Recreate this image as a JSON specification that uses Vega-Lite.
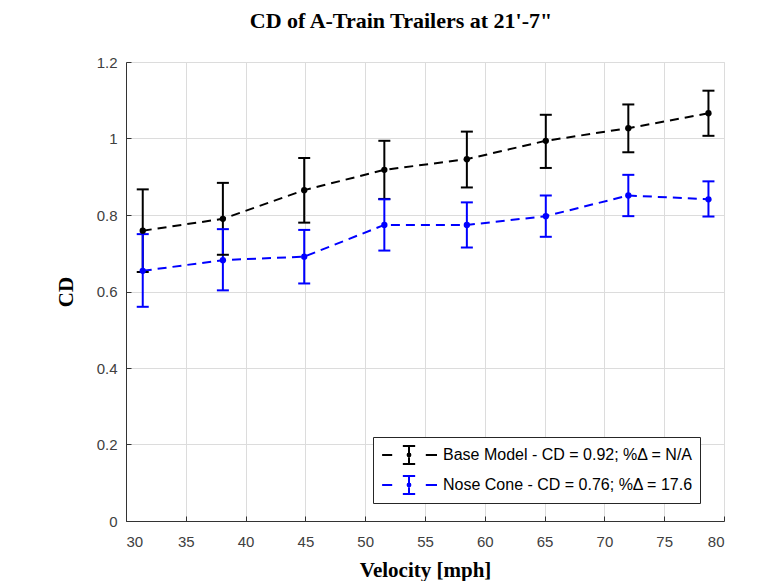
{
  "$schema": "https://vega.github.io/schema/vega-lite/v6.json",
  "width": 598,
  "height": 459,
  "autosize": {"type": "none"},
  "padding": {"left": 126, "top": 62, "right": 57, "bottom": 60},
  "background": "white",
  "title": {
    "text": "CD of A-Train Trailers at 21'-7\"",
    "font": "Liberation Serif",
    "fontWeight": "bold",
    "fontSize": 22,
    "color": "black",
    "anchor": "middle",
    "baseline": "alphabetic",
    "offset": 5,
    "dx": -24
  },
  "data": {
    "values": [
      {"series": "Base Model - CD = 0.92; %Δ = N/A", "v": 31.4, "cd": 0.759, "lo": 0.651, "hi": 0.867},
      {"series": "Base Model - CD = 0.92; %Δ = N/A", "v": 38.1, "cd": 0.790, "lo": 0.696, "hi": 0.884},
      {"series": "Base Model - CD = 0.92; %Δ = N/A", "v": 44.9, "cd": 0.865, "lo": 0.780, "hi": 0.949},
      {"series": "Base Model - CD = 0.92; %Δ = N/A", "v": 51.6, "cd": 0.918, "lo": 0.842, "hi": 0.994},
      {"series": "Base Model - CD = 0.92; %Δ = N/A", "v": 58.5, "cd": 0.946, "lo": 0.872, "hi": 1.018},
      {"series": "Base Model - CD = 0.92; %Δ = N/A", "v": 65.1, "cd": 0.994, "lo": 0.923, "hi": 1.062},
      {"series": "Base Model - CD = 0.92; %Δ = N/A", "v": 72.0, "cd": 1.027, "lo": 0.964, "hi": 1.089},
      {"series": "Base Model - CD = 0.92; %Δ = N/A", "v": 78.7, "cd": 1.066, "lo": 1.007, "hi": 1.125},
      {"series": "Nose Cone - CD = 0.76; %Δ = 17.6", "v": 31.4, "cd": 0.654, "lo": 0.560, "hi": 0.750},
      {"series": "Nose Cone - CD = 0.76; %Δ = 17.6", "v": 38.1, "cd": 0.682, "lo": 0.603, "hi": 0.763},
      {"series": "Nose Cone - CD = 0.76; %Δ = 17.6", "v": 44.9, "cd": 0.691, "lo": 0.621, "hi": 0.761},
      {"series": "Nose Cone - CD = 0.76; %Δ = 17.6", "v": 51.6, "cd": 0.774, "lo": 0.707, "hi": 0.841},
      {"series": "Nose Cone - CD = 0.76; %Δ = 17.6", "v": 58.5, "cd": 0.774, "lo": 0.715, "hi": 0.833},
      {"series": "Nose Cone - CD = 0.76; %Δ = 17.6", "v": 65.1, "cd": 0.797, "lo": 0.743, "hi": 0.851},
      {"series": "Nose Cone - CD = 0.76; %Δ = 17.6", "v": 72.0, "cd": 0.851, "lo": 0.797, "hi": 0.905},
      {"series": "Nose Cone - CD = 0.76; %Δ = 17.6", "v": 78.7, "cd": 0.841, "lo": 0.796, "hi": 0.888}
    ]
  },
  "encoding": {
    "x": {
      "field": "v",
      "type": "quantitative",
      "scale": {"domain": [30, 80], "nice": false, "zero": false},
      "axis": {
        "title": "Velocity [mph]",
        "values": [30, 35, 40, 45, 50, 55, 60, 65, 70, 75, 80],
        "format": "~g"
      }
    },
    "color": {
      "field": "series",
      "type": "nominal",
      "scale": {
        "domain": ["Base Model - CD = 0.92; %Δ = N/A", "Nose Cone - CD = 0.76; %Δ = 17.6"],
        "range": ["#000000", "#0000ff"]
      },
      "legend": {
        "title": null,
        "orient": "none",
        "legendX": 247,
        "legendY": 375,
        "symbolType": "M-0.96,0H-0.6M0.6,0H1M0,-0.32V0.32M-0.22,-0.32H0.22M-0.22,0.32H0.22M-0.05,0A0.05,0.05 0 1,0 0.05,0A0.05,0.05 0 1,0 -0.05,0Z",
        "symbolSize": 3136,
        "symbolStrokeWidth": 2,
        "clipHeight": 22,
        "rowPadding": 8,
        "labelOffset": 5,
        "labelFont": "Liberation Sans",
        "labelFontSize": 16,
        "labelColor": "black",
        "labelLimit": 400,
        "padding": 7,
        "strokeColor": "#262626",
        "fillColor": "white",
        "encode": {
          "symbols": {
            "update": {
              "fill": {"scale": "color", "field": "value"},
              "stroke": {"scale": "color", "field": "value"},
              "strokeWidth": {"value": 2},
              "opacity": {"value": 1}
            }
          }
        }
      }
    }
  },
  "layer": [
    {
      "mark": {"type": "line", "strokeWidth": 2, "strokeDash": [9, 6]},
      "encoding": {
        "y": {
          "field": "cd",
          "type": "quantitative",
          "scale": {"domain": [0, 1.2], "nice": false},
          "axis": {
            "title": "CD",
            "values": [0, 0.2, 0.4, 0.6, 0.8, 1, 1.2],
            "format": "~g"
          }
        }
      }
    },
    {
      "mark": {"type": "rule", "strokeWidth": 2},
      "encoding": {
        "y": {"field": "lo", "type": "quantitative"},
        "y2": {"field": "hi"}
      }
    },
    {
      "mark": {"type": "tick", "orient": "horizontal", "size": 12, "thickness": 2, "opacity": 1},
      "encoding": {"y": {"field": "lo", "type": "quantitative"}}
    },
    {
      "mark": {"type": "tick", "orient": "horizontal", "size": 12, "thickness": 2, "opacity": 1},
      "encoding": {"y": {"field": "hi", "type": "quantitative"}}
    },
    {
      "mark": {"type": "point", "filled": true, "size": 40, "opacity": 1, "shape": "circle"},
      "encoding": {"y": {"field": "cd", "type": "quantitative"}}
    }
  ],
  "config": {
    "view": {"stroke": "#dcdcdc", "strokeWidth": 1},
    "axis": {
      "labelFont": "Liberation Sans",
      "labelFontSize": 15,
      "labelColor": "#404040",
      "titleFont": "Liberation Serif",
      "titleFontWeight": "bold",
      "titleFontSize": 21,
      "titleColor": "black",
      "domainColor": "#333333",
      "domainWidth": 1,
      "tickColor": "#333333",
      "tickSize": -5,
      "gridColor": "#dcdcdc",
      "gridWidth": 1,
      "grid": true
    },
    "axisX": {"labelPadding": 18, "titlePadding": 10},
    "axisY": {"labelPadding": 14, "titlePadding": 20}
  }
}
